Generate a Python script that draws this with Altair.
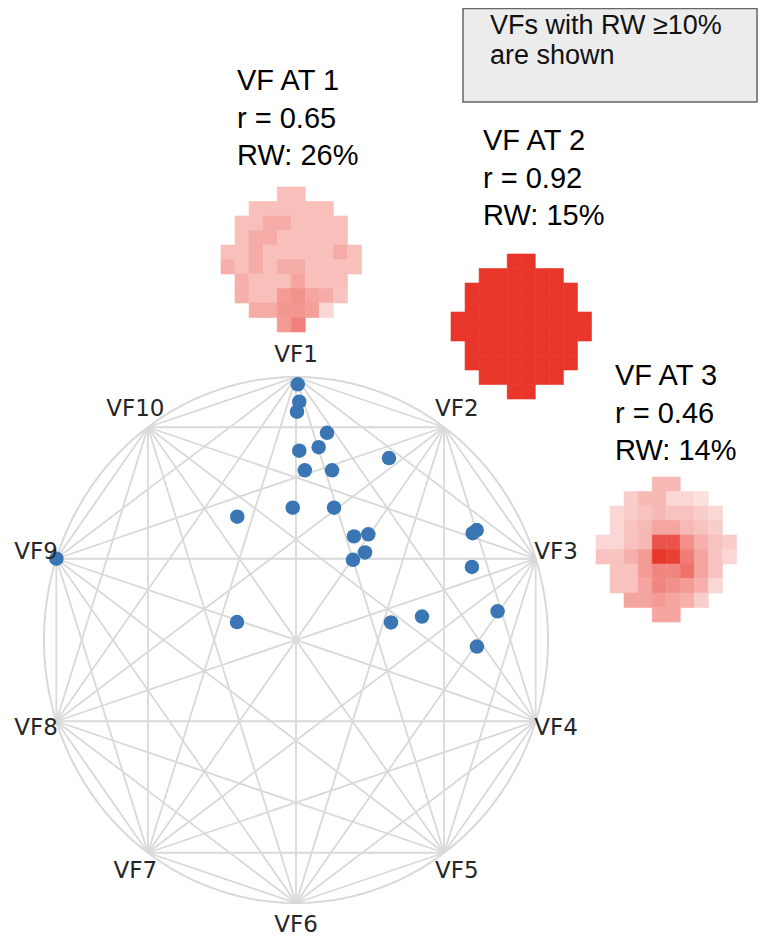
import altair as alt
import numpy as np
import pandas as pd

# ---------------- data ----------------
vf_labels = [f"VF{i}" for i in range(1, 11)]

# archetype-space points (unit-circle coordinates: u to the right, v upwards)
dot_u = [0.007, 0.013, 0.004, 0.123, 0.090, 0.013, 0.369, 0.035, 0.143, -0.013,
         0.151, -0.233, 0.230, 0.287, 0.274, 0.226, 0.717, 0.701, 0.698, 0.800,
         0.500, 0.377, 0.718, -0.951, -0.234]
dot_v = [0.972, 0.906, 0.868, 0.788, 0.733, 0.720, 0.692, 0.645, 0.645, 0.503,
         0.503, 0.469, 0.394, 0.402, 0.333, 0.305, 0.418, 0.406, 0.278, 0.109,
         0.089, 0.067, -0.025, 0.309, 0.068]

N = None
hm1 = [
    [N, N, N, N, .32, .32, N, N, N, N],
    [N, N, .32, .32, .32, .32, .32, .32, N, N],
    [N, .32, .32, .42, .42, .32, .32, .32, .32, N],
    [N, .32, .42, .42, .32, .32, .32, .32, .32, N],
    [.32, .32, .42, .32, .32, .32, .32, .32, .42, .32],
    [.40, .32, .42, .32, .42, .42, .32, .32, .32, .32],
    [N, .40, .32, .32, .32, .45, .32, .32, .32, N],
    [N, .40, .32, .32, .50, .55, .45, .42, .30, N],
    [N, N, .42, .42, .52, .52, .48, .20, N, N],
    [N, N, N, N, .50, .62, N, N, N, N],
]
hm2 = [
    [N, N, N, N, 1, 1, N, N, N, N],
    [N, N, 1, 1, 1, 1, 1, 1, N, N],
    [N, 1, 1, 1, 1, 1, 1, 1, 1, N],
    [N, 1, 1, 1, 1, 1, 1, 1, 1, N],
    [1, 1, 1, 1, 1, 1, 1, 1, 1, 1],
    [1, 1, 1, 1, 1, 1, 1, 1, 1, 1],
    [N, 1, 1, 1, 1, 1, 1, 1, 1, N],
    [N, 1, 1, 1, 1, 1, 1, 1, 1, N],
    [N, N, 1, 1, 1, 1, 1, 1, N, N],
    [N, N, N, N, 1, 1, N, N, N, N],
]
hm3 = [
    [N, N, N, N, .35, .35, N, N, N, N],
    [N, N, .25, .35, .35, .20, .20, .15, N, N],
    [N, .20, .25, .30, .35, .30, .30, .25, .20, N],
    [N, .20, .30, .35, .45, .45, .35, .30, .25, N],
    [.20, .20, .30, .35, .85, .85, .55, .40, .30, .25],
    [.30, .30, .40, .50, 1.0, .95, .65, .45, .30, .20],
    [N, .30, .30, .50, .60, .60, .70, .45, .30, N],
    [N, .30, .30, .45, .60, .55, .50, .40, .20, N],
    [N, N, .45, .45, .50, .45, .40, .25, N, N],
    [N, N, N, N, .45, .45, N, N, N, N],
]
titles = [["VF AT 1", "r = 0.65", "RW: 26%"],
          ["VF AT 2", "r = 0.92", "RW: 15%"],
          ["VF AT 3", "r = 0.46", "RW: 14%"]]
note_lines = ["VFs with RW \u226510%", "are shown"]

# ---------------- layout (page pixels -> unit coordinates) ----------------
W, H = 751, 929
CX, CY, RX, RY = 296.0, 640.0, 252.0, 263.0
def to_u(px): return (px - CX) / RX
def to_v(py): return (CY - py) / RY
U0, U1 = to_u(8), to_u(8 + W)
V0, V1 = to_v(8 + H), to_v(8)

xs = alt.Scale(domain=[U0, U1], nice=False, zero=False)
ys = alt.Scale(domain=[V0, V1], nice=False, zero=False)
def X(f="x"): return alt.X(f"{f}:Q", scale=xs, axis=None)
def Y(f="y"): return alt.Y(f"{f}:Q", scale=ys, axis=None)

# vertices
ang = np.deg2rad(90 - 36 * np.arange(10))
vx, vy = np.cos(ang), np.sin(ang)

# circle outline
t = np.linspace(0, 2 * np.pi, 361)
circle_df = pd.DataFrame({"x": np.cos(t), "y": np.sin(t), "o": np.arange(361)})

# chords between every pair of vertices
chords = []
for i in range(10):
    for j in range(i + 1, 10):
        chords.append({"x": vx[i], "y": vy[i], "x2": vx[j], "y2": vy[j]})
chord_df = pd.DataFrame(chords)

dots_df = pd.DataFrame({"x": dot_u, "y": dot_v})

LR = 1.085
lab_df = pd.DataFrame({"x": LR * vx, "y": LR * vy, "t": vf_labels})

# heatmaps
anchors = [(221, 187), (451, 254), (596, 477)]
cw, ch = 14.05, 14.5
cells = []
for hm, (ax, ay) in zip([hm1, hm2, hm3], anchors):
    for r, row in enumerate(hm):
        for c, val in enumerate(row):
            if val is None:
                continue
            cells.append({"x": to_u(ax + c * cw), "x2": to_u(ax + (c + 1) * cw),
                          "y": to_v(ay + r * ch), "y2": to_v(ay + (r + 1) * ch),
                          "val": val})
cell_df = pd.DataFrame(cells)

title_anchor = [(237, 81), (483, 141), (615, 376)]
trows = []
for lines, (tx, ty) in zip(titles, title_anchor):
    for k, s in enumerate(lines):
        trows.append({"x": to_u(tx), "y": to_v(ty + k * 37.5), "t": s})
title_df = pd.DataFrame(trows)

box_df = pd.DataFrame({"x": [to_u(463)], "x2": [to_u(757)], "y": [to_v(8.5)], "y2": [to_v(102)]})
note_df = pd.DataFrame({"x": [to_u(490)] * 2, "y": [to_v(26), to_v(56)], "t": note_lines})

# ---------------- layers ----------------
circle = alt.Chart(circle_df).mark_line(color="#d9d9d9", strokeWidth=2).encode(
    x=X(), y=Y(), order="o:Q")
chord = alt.Chart(chord_df).mark_rule(color="#d9d9d9", strokeWidth=1.8).encode(
    x=X(), y=Y(), x2="x2:Q", y2="y2:Q")
dots = alt.Chart(dots_df).mark_circle(size=210, color="#3a76b3", opacity=1).encode(
    x=X(), y=Y())
labels = alt.Chart(lab_df).mark_text(font="DejaVu Sans", fontSize=23, color="#262626",
                                     align="center", baseline="middle").encode(
    x=X(), y=Y(), text="t:N")
cscale = alt.Scale(domain=[0, 1], range=["#ffffff", "#e8362a"], interpolate="rgb")
heat = alt.Chart(cell_df).mark_rect(strokeWidth=0.6).encode(
    x=X(), x2="x2:Q", y=Y(), y2="y2:Q",
    color=alt.Color("val:Q", scale=cscale, legend=None),
    stroke=alt.Stroke("val:Q", scale=cscale, legend=None))
ttl = alt.Chart(title_df).mark_text(font="Liberation Sans", fontSize=29, color="#000000",
                                    align="left", baseline="middle").encode(
    x=X(), y=Y(), text="t:N")
box = alt.Chart(box_df).mark_rect(fill="#ececec", stroke="#666666", strokeWidth=1.5).encode(
    x=X(), x2="x2:Q", y=Y(), y2="y2:Q")
note = alt.Chart(note_df).mark_text(font="Liberation Sans", fontSize=27, color="#111111",
                                    align="left", baseline="middle").encode(
    x=X(), y=Y(), text="t:N")

chart = alt.layer(circle, chord, dots, labels, heat, ttl, box, note).properties(
    width=W, height=H, padding=0, autosize=alt.AutoSizeParams(type="none")
).configure_view(stroke=None)

chart.save("out.html", embed_options={"renderer": "svg", "actions": False})
